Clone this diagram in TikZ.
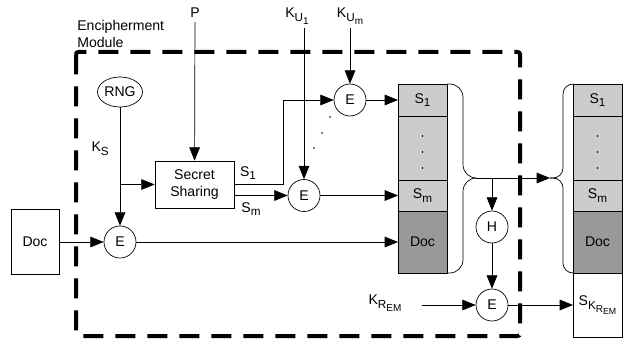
\documentclass[tikz,border=0pt]{standalone}
\usepackage{fontspec}
\setmainfont{Liberation Sans}
\usetikzlibrary{arrows.meta,shapes.geometric}
\newcommand{\lowA}[1]{\raisebox{-0.5ex}{\fontsize{10}{11}\selectfont #1}}
\newcommand{\lowB}[1]{\raisebox{-0.45ex}{\fontsize{8.5}{9}\selectfont #1}}

\begin{document}
\begin{tikzpicture}[x=0.03cm,y=-0.03cm,font=\fontsize{12}{14.2}\selectfont,line width=0.6pt,
  arr/.style={-{Triangle[length=0.4cm,width=0.32cm]}},
  enc/.style={draw,circle,minimum size=0.96cm,inner sep=0pt},
  cell/.style={draw,rectangle,minimum width=1.47cm,inner sep=0pt,outer sep=0pt}]
\useasboundingbox (0,0) rectangle (626,340);
% module border
\draw[line width=0.12cm,dash pattern=on 0.6cm off 0.36cm,rounded corners=2pt] (76,52) rectangle (520,336);
\node[align=left,anchor=north west,inner sep=0pt] (modlabel) at (77,20) {Encipherment\\Module};
% inputs
\node[draw,rectangle,minimum width=1.44cm,minimum height=1.95cm] (doc) at (35,242) {Doc};
\node[draw,ellipse,minimum width=1.35cm,minimum height=0.9cm,inner sep=0pt] (rng) at (120,92) {RNG};
\node (p) at (195,13) {P};
\node (ku1) at (297,16) {K\lowA{U\lowB{1}}};
\node (kum) at (350,16) {K\lowA{U\lowB{m}}};
\node (krem) at (385,303) {K\lowA{R\lowB{EM}}};
\node[draw,rectangle,minimum width=2.37cm,minimum height=1.41cm,align=center] (ss) at (194.5,184.5) {Secret\\Sharing};
% encryption / hash
\node[enc] (e1) at (350,100) {E};
\node[enc] (e2) at (304,195.5) {E};
\node[enc] (e0) at (120,242) {E};
\node[enc] (h) at (492,227) {H};
\node[enc] (e3) at (492,305) {E};
% left stack
\node[cell,fill=black!20,minimum height=0.96cm] (s1l) at (422.5,100) {S\lowA{1}};
\node[cell,fill=black!20,minimum height=1.92cm] (dotsl) at (422.5,148) {};
\node[cell,fill=black!20,minimum height=0.93cm] (sml) at (422.5,195.5) {S\lowA{m}};
\node[cell,fill=black!40,minimum height=1.86cm] (docl) at (422.5,242) {Doc};
% right stack
\node[cell,fill=black!20,minimum height=0.96cm] (s1r) at (597.5,100) {S\lowA{1}};
\node[cell,fill=black!20,minimum height=1.92cm] (dotsr) at (597.5,148) {};
\node[cell,fill=black!20,minimum height=0.93cm] (smr) at (597.5,195.5) {S\lowA{m}};
\node[cell,fill=black!40,minimum height=1.86cm] (docr) at (597.5,242) {Doc};
\node[cell,minimum height=1.92cm] (skrem) at (597.5,305) {S\lowA{K\lowB{R\raisebox{-0.4ex}{\fontsize{7.5}{8}\selectfont EM}}}};
\foreach \y in {136,152,168} {
  \fill (dotsl.center |- 0,\y) circle (0.8pt);
  \fill (dotsr.center |- 0,\y) circle (0.8pt);
}
\foreach \x/\y in {330/117,322/133,314/148} \fill (\x,\y) circle (0.8pt);
% braces
\coordinate (ltip) at (476,178);
\coordinate (rtip) at (550,178);
\draw[rounded corners=0.4cm] (s1l.north east) -| (463,178) -- (ltip);
\draw[rounded corners=0.4cm] (ltip) -- (463,178) |- (docl.south east);
\draw[rounded corners=0.3cm] (s1r.north west) -| (563,178) -- (rtip);
\draw[rounded corners=0.3cm] (rtip) -- (563,178) |- (docr.south west);
% connectors
\coordinate (s1bend) at (283,100);
\draw[arr] (doc) -- (e0);
\draw[arr] (rng) -- (e0) node[pos=0.35,left=6pt] {K\lowA{S}};
\draw[arr] (rng.south |- ss.west) -- (ss.west);
\draw[arr] (p) -- (ss);
\draw[arr] (ss.east) -| (s1bend) -- (e1);
\node at (248,173) {S\lowA{1}};
\draw[arr] (ss.east |- e2) -- (e2);
\node at (251,209) {S\lowA{m}};
\draw[arr] (e2 |- ku1.south) -- (e2);
\draw[arr] (e1 |- kum.south) -- (e1);
\draw[arr] (e1) -- (s1l);
\draw[arr] (e2) -- (sml);
\draw[arr] (e0) -- (docl);
\draw[arr] (ltip) -- (rtip);
\draw[arr] (h |- ltip) -- (h);
\draw[arr] (h) -- (e3);
\draw[arr] ([xshift=0.5cm]krem.east |- e3) -- (e3);
\draw[arr] (e3) -- (skrem);
\end{tikzpicture}
\end{document}
